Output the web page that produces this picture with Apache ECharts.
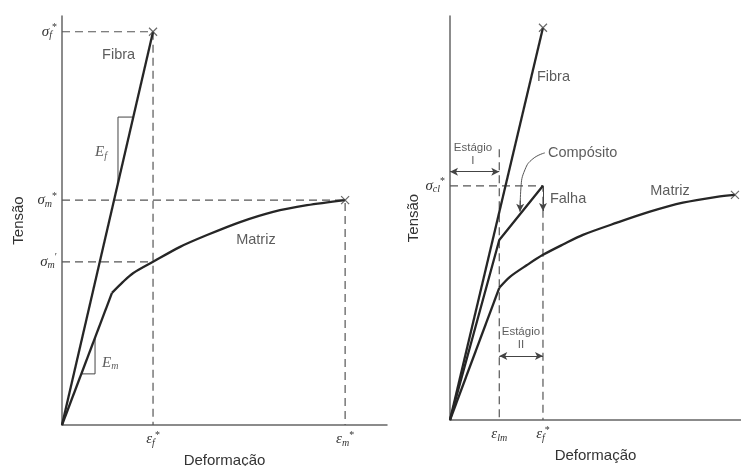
<!DOCTYPE html>
<html><head><meta charset="utf-8">
<script src="https://cdn.jsdelivr.net/npm/echarts@6/dist/echarts.min.js"></script>
<style>html,body{margin:0;padding:0;background:#fff}#c{width:741px;height:466px}</style>
</head><body><div id="c"></div>
<script>
// ---------- LEFT PANEL DATA (strain, stress; arbitrary units) ----------
const fiberL = [[0, 0], [1.0, 1.0]];
const matrixLinL = [[0, 0], [0.549, 0.336]];
const matrixCurveL = [[0.549, 0.336], [0.670, 0.364], [0.780, 0.386], [1.0, 0.415], [1.297, 0.453], [1.593, 0.483], [1.956, 0.516], [2.319, 0.542], [2.692, 0.559], [3.11, 0.572]];
const guideL1 = [[0, 1.0], [1.0, 1.0], [1.0, 0]];
const guideL2 = [[0, 0.572], [3.11, 0.572], [3.11, 0]];
const guideL3 = [[0, 0.415], [1.0, 0.415]];
const triEf = [[0.783, 0.783], [0.615, 0.783], [0.615, 0.615]];
const triEm = [[0.363, 0.222], [0.363, 0.13], [0.213, 0.13]];
const breaksL = [[1.0, 1.0], [3.11, 0.572]];
const yTickValsL = [1.0, 0.572, 0.415];
const yTickTextL = ['{g|σ}{sub|f}{sup|*}', '{g|σ}{sub|m}{sup|*}', '{g|σ}{sub|m}{sup|′}'];
const xTickValsL = [1.0, 3.11];
const xTickTextL = ['{g|ε}{sub|f}{sup|*}', '{g|ε}{sub|m}{sup|*}'];
const textL = ['Fibra', '{it|E}{sub|f}', 'Matriz', '{it|E}{sub|m}'];
const textLPos = [[0.44, 0.94], [0.363, 0.694], [2.13, 0.47], [0.44, 0.158]];
const textLAlign = ['left', 'left', 'center', 'left'];

// ---------- RIGHT PANEL DATA ----------
const fiberR = [[0, 0], [1.0, 1.0]];
const compositeR = [[0, 0], [0.53, 0.459], [1.0, 0.597]];
const matrixLinR = [[0, 0], [0.53, 0.337]];
const matrixCurveR = [[0.53, 0.337], [0.645, 0.365], [0.828, 0.395], [1.0, 0.421], [1.22, 0.448], [1.43, 0.472], [1.796, 0.503], [2.15, 0.531], [2.505, 0.554], [2.87, 0.569], [3.065, 0.574]];
const guideR1 = [[0, 0.597], [1.0, 0.597], [1.0, 0]];
const guideR2 = [[0.53, 0.69], [0.53, 0]];
const breaksR = [[1.0, 1.0], [3.065, 0.574]];
const yTickValsR = [0.597];
const yTickTextR = ['{g|σ}{sub|cl}{sup|*}'];
const xTickValsR = [0.53, 1.0];
const xTickTextR = ['{g|ε}{sub|lm}', '{g|ε}{sub|f}{sup|*}'];
const textR = ['Fibra', 'Compósito', 'Falha', 'Matriz', 'Estágio', 'I', 'Estágio', 'II'];
const textRPos = [[0.935, 0.875], [1.054, 0.681], [1.075, 0.564], [2.366, 0.584], [0.247, 0.694], [0.247, 0.661], [0.763, 0.224], [0.763, 0.191]];
const textRAlign = ['left', 'left', 'left', 'center', 'center', 'center', 'center', 'center'];
const textRSmall = [false, false, false, false, true, true, true, true];
const arrowStage1 = [[0, 0.633], [0.53, 0.633]];
const arrowStage2 = [[0.53, 0.163], [1.0, 0.163]];
const arrowFail = [[1.0, 0.597], [1.0, 0.533]];
const compLeader = [[1.02, 0.681], [0.892, 0.666], [0.806, 0.638], [0.763, 0.592], [0.755, 0.545]];
const compArrowHead = [[0.756, 0.56], [0.753, 0.531]];

const INK = '#262626';
const SANS = 'Liberation Sans';
const SERIF = 'Liberation Serif';
const rich = {
  g: { fontFamily: SERIF, fontStyle: 'italic', fontSize: 15, color: '#333', lineHeight: 18 },
  it: { fontFamily: SERIF, fontStyle: 'italic', fontSize: 15, color: '#333', lineHeight: 18 },
  sub: { fontFamily: SERIF, fontStyle: 'italic', fontSize: 10, color: '#333', lineHeight: 9, verticalAlign: 'bottom' },
  sup: { fontFamily: SERIF, fontSize: 10, color: '#333', lineHeight: 10, verticalAlign: 'top' }
};

function lineS(data, idx, opt) {
  return Object.assign({
    type: 'line', data: data, xAxisIndex: idx, yAxisIndex: idx, symbol: 'none', silent: true,
    lineStyle: { color: INK, width: 2.3 }, z: 3
  }, opt || {});
}
function dashS(data, idx) {
  return lineS(data, idx, { lineStyle: { color: '#555', width: 1.2, type: [8, 5] }, z: 2 });
}
function thinS(data, idx, opt) {
  return lineS(data, idx, Object.assign({ lineStyle: { color: '#444', width: 1 }, z: 2 }, opt || {}));
}
function breakS(data, idx) {
  return {
    type: 'scatter', data: data, xAxisIndex: idx, yAxisIndex: idx, silent: true,
    symbol: 'path://M0 0L10 10M10 0L0 10', symbolSize: 8,
    itemStyle: { color: 'rgba(0,0,0,0)', borderColor: '#444', borderWidth: 1.2 }, z: 4
  };
}
function textS(texts, pos, aligns, idx, small) {
  return {
    type: 'scatter', xAxisIndex: idx, yAxisIndex: idx, silent: true, symbolSize: 1,
    itemStyle: { color: 'rgba(0,0,0,0)' }, z: 5,
    data: texts.map((t, i) => ({
      name: t, value: pos[i],
      label: {
        show: true, position: 'inside', align: aligns[i], verticalAlign: 'middle',
        fontFamily: SANS, color: '#333',
        fontSize: (small && small[i]) ? 11.5 : 14.5,
        formatter: p => p.name, rich: rich
      }
    }))
  };
}
function arrowItem(seg, sym0, sym1) {
  return [{ coord: seg[0], symbol: sym0 }, { coord: seg[1], symbol: sym1 }];
}
function axisX(idx, max, vals, texts) {
  return {
    type: 'value', gridIndex: idx, min: 0, max: max,
    name: 'Deformação', nameLocation: 'middle', nameGap: 27,
    nameTextStyle: { fontFamily: SANS, fontSize: 15, color: '#333' },
    axisLine: { show: true, onZero: false, lineStyle: { color: '#666', width: 1.5 } },
    axisTick: { show: false }, splitLine: { show: false },
    axisLabel: {
      show: true, customValues: vals, margin: 5,
      formatter: v => texts[vals.indexOf(v)] || '', rich: rich
    }
  };
}
function axisY(idx, max, vals, texts, gap) {
  return {
    type: 'value', gridIndex: idx, min: 0, max: max,
    name: 'Tensão', nameLocation: 'middle', nameGap: gap, nameRotate: 90,
    nameTextStyle: { fontFamily: SANS, fontSize: 15, color: '#333' },
    axisLine: { show: true, onZero: false, lineStyle: { color: '#666', width: 1.5 } },
    axisTick: { show: false }, splitLine: { show: false },
    axisLabel: {
      show: true, customValues: vals, margin: 5,
      formatter: v => texts[vals.indexOf(v)] || '', rich: rich
    }
  };
}

const chart = echarts.init(document.getElementById('c'), null, { renderer: 'canvas' });
chart.setOption({
  animation: false,
  backgroundColor: '#fff',
  grid: [
    { left: 62, right: 354, top: 16, bottom: 41, containLabel: false, outerBoundsMode: 'none' },
    { left: 450, right: 0, top: 16, bottom: 46, containLabel: false, outerBoundsMode: 'none' }
  ],
  xAxis: [axisX(0, 3.57, xTickValsL, xTickTextL), axisX(1, 3.13, xTickValsR, xTickTextR)],
  yAxis: [axisY(0, 1.04, yTickValsL, yTickTextL, 36), axisY(1, 1.03, yTickValsR, yTickTextR, 24)],
  series: [
    dashS(guideL1, 0), dashS(guideL2, 0), dashS(guideL3, 0),
    lineS(fiberL, 0), lineS(matrixLinL, 0),
    lineS(matrixCurveL, 0, { smooth: 0.3 }),
    thinS(triEf, 0), thinS(triEm, 0),
    breakS(breaksL, 0),
    textS(textL, textLPos, textLAlign, 0),

    dashS(guideR1, 1), dashS(guideR2, 1),
    lineS(fiberR, 1, {
      markLine: {
        silent: true, animation: false, symbolSize: [6, 8],
        label: { show: false },
        lineStyle: { color: '#444', width: 1, type: 'solid' },
        data: [
          arrowItem(arrowStage1, 'arrow', 'arrow'),
          arrowItem(arrowStage2, 'arrow', 'arrow'),
          arrowItem(arrowFail, 'none', 'arrow'),
          arrowItem(compArrowHead, 'none', 'arrow')
        ]
      }
    }),
    thinS(compLeader, 1, { smooth: 0.5, lineStyle: { color: '#555', width: 1 } }),
    lineS(compositeR, 1),
    lineS(matrixLinR, 1),
    lineS(matrixCurveR, 1, { smooth: 0.3 }),
    breakS(breaksR, 1),
    textS(textR, textRPos, textRAlign, 1, textRSmall)
  ]
});
</script></body></html>
